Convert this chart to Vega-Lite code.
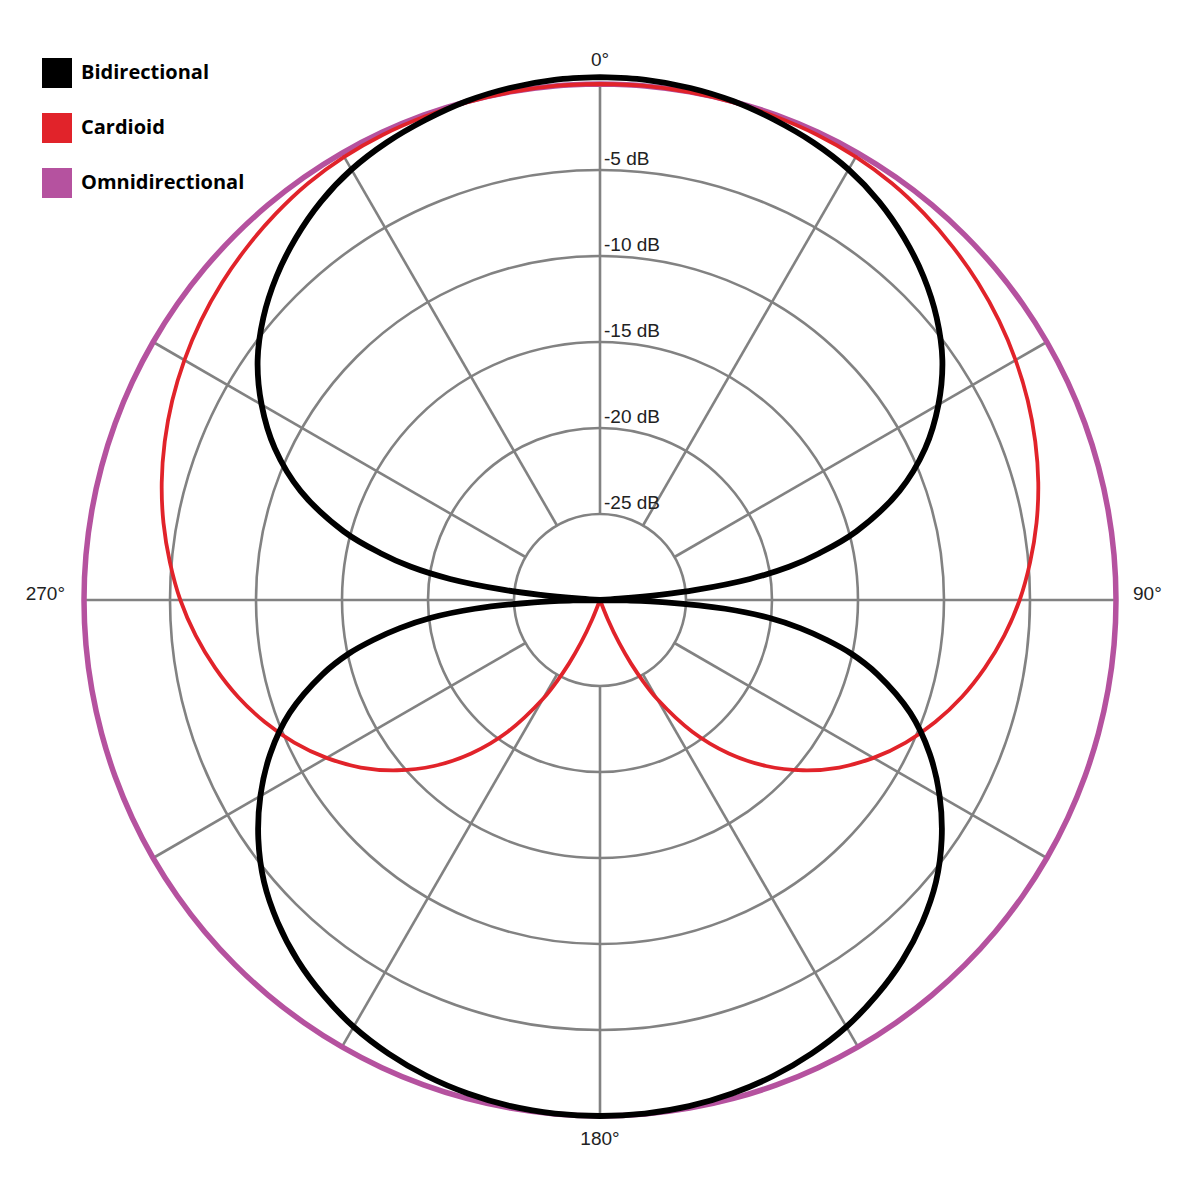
{
  "$schema": "https://vega.github.io/schema/vega-lite/v6.json",
  "width": 1032,
  "height": 1032,
  "autosize": {"type": "none"},
  "padding": {"left": 84, "top": 84, "right": 84, "bottom": 84},
  "background": "white",
  "config": {"view": {"stroke": null}},
  "datasets": {
    "rings": [{"dB": -25}, {"dB": -20}, {"dB": -15}, {"dB": -10}, {"dB": -5}, {"dB": 0}],
    "spokes": [{"angle": 0}, {"angle": 30}, {"angle": 60}, {"angle": 90}, {"angle": 120}, {"angle": 150}, {"angle": 180}, {"angle": 210}, {"angle": 240}, {"angle": 270}, {"angle": 300}, {"angle": 330}],
    "ringLabels": [{"label": "-5 dB", "dB": -5}, {"label": "-10 dB", "dB": -10}, {"label": "-15 dB", "dB": -15}, {"label": "-20 dB", "dB": -20}, {"label": "-25 dB", "dB": -25}],
    "angleLabels": [{"label": "0°", "angle": 0}, {"label": "90°", "angle": 90}, {"label": "180°", "angle": 180}, {"label": "270°", "angle": 270}],
    "curves": [
      {"pattern": "Omnidirectional", "angle": 0, "dB": 0}, {"pattern": "Omnidirectional", "angle": 5, "dB": 0}, {"pattern": "Omnidirectional", "angle": 10, "dB": 0}, {"pattern": "Omnidirectional", "angle": 15, "dB": 0}, {"pattern": "Omnidirectional", "angle": 20, "dB": 0}, {"pattern": "Omnidirectional", "angle": 25, "dB": 0}, {"pattern": "Omnidirectional", "angle": 30, "dB": 0}, {"pattern": "Omnidirectional", "angle": 35, "dB": 0}, {"pattern": "Omnidirectional", "angle": 40, "dB": 0}, {"pattern": "Omnidirectional", "angle": 45, "dB": 0}, {"pattern": "Omnidirectional", "angle": 50, "dB": 0}, {"pattern": "Omnidirectional", "angle": 55, "dB": 0}, {"pattern": "Omnidirectional", "angle": 60, "dB": 0}, {"pattern": "Omnidirectional", "angle": 65, "dB": 0}, {"pattern": "Omnidirectional", "angle": 70, "dB": 0}, {"pattern": "Omnidirectional", "angle": 75, "dB": 0}, {"pattern": "Omnidirectional", "angle": 80, "dB": 0}, {"pattern": "Omnidirectional", "angle": 85, "dB": 0}, {"pattern": "Omnidirectional", "angle": 90, "dB": 0}, {"pattern": "Omnidirectional", "angle": 95, "dB": 0}, {"pattern": "Omnidirectional", "angle": 100, "dB": 0}, {"pattern": "Omnidirectional", "angle": 105, "dB": 0}, {"pattern": "Omnidirectional", "angle": 110, "dB": 0}, {"pattern": "Omnidirectional", "angle": 115, "dB": 0}, {"pattern": "Omnidirectional", "angle": 120, "dB": 0}, {"pattern": "Omnidirectional", "angle": 125, "dB": 0}, {"pattern": "Omnidirectional", "angle": 130, "dB": 0}, {"pattern": "Omnidirectional", "angle": 135, "dB": 0}, {"pattern": "Omnidirectional", "angle": 140, "dB": 0}, {"pattern": "Omnidirectional", "angle": 145, "dB": 0}, {"pattern": "Omnidirectional", "angle": 150, "dB": 0}, {"pattern": "Omnidirectional", "angle": 155, "dB": 0}, {"pattern": "Omnidirectional", "angle": 160, "dB": 0}, {"pattern": "Omnidirectional", "angle": 165, "dB": 0}, {"pattern": "Omnidirectional", "angle": 170, "dB": 0}, {"pattern": "Omnidirectional", "angle": 175, "dB": 0}, {"pattern": "Omnidirectional", "angle": 180, "dB": 0}, {"pattern": "Omnidirectional", "angle": 185, "dB": 0}, {"pattern": "Omnidirectional", "angle": 190, "dB": 0}, {"pattern": "Omnidirectional", "angle": 195, "dB": 0}, {"pattern": "Omnidirectional", "angle": 200, "dB": 0}, {"pattern": "Omnidirectional", "angle": 205, "dB": 0}, {"pattern": "Omnidirectional", "angle": 210, "dB": 0}, {"pattern": "Omnidirectional", "angle": 215, "dB": 0}, {"pattern": "Omnidirectional", "angle": 220, "dB": 0}, {"pattern": "Omnidirectional", "angle": 225, "dB": 0}, {"pattern": "Omnidirectional", "angle": 230, "dB": 0}, {"pattern": "Omnidirectional", "angle": 235, "dB": 0}, {"pattern": "Omnidirectional", "angle": 240, "dB": 0}, {"pattern": "Omnidirectional", "angle": 245, "dB": 0}, {"pattern": "Omnidirectional", "angle": 250, "dB": 0}, {"pattern": "Omnidirectional", "angle": 255, "dB": 0}, {"pattern": "Omnidirectional", "angle": 260, "dB": 0}, {"pattern": "Omnidirectional", "angle": 265, "dB": 0}, {"pattern": "Omnidirectional", "angle": 270, "dB": 0}, {"pattern": "Omnidirectional", "angle": 275, "dB": 0}, {"pattern": "Omnidirectional", "angle": 280, "dB": 0}, {"pattern": "Omnidirectional", "angle": 285, "dB": 0}, {"pattern": "Omnidirectional", "angle": 290, "dB": 0}, {"pattern": "Omnidirectional", "angle": 295, "dB": 0}, {"pattern": "Omnidirectional", "angle": 300, "dB": 0}, {"pattern": "Omnidirectional", "angle": 305, "dB": 0}, {"pattern": "Omnidirectional", "angle": 310, "dB": 0}, {"pattern": "Omnidirectional", "angle": 315, "dB": 0}, {"pattern": "Omnidirectional", "angle": 320, "dB": 0}, {"pattern": "Omnidirectional", "angle": 325, "dB": 0}, {"pattern": "Omnidirectional", "angle": 330, "dB": 0}, {"pattern": "Omnidirectional", "angle": 335, "dB": 0}, {"pattern": "Omnidirectional", "angle": 340, "dB": 0}, {"pattern": "Omnidirectional", "angle": 345, "dB": 0}, {"pattern": "Omnidirectional", "angle": 350, "dB": 0}, {"pattern": "Omnidirectional", "angle": 355, "dB": 0}, {"pattern": "Omnidirectional", "angle": 360, "dB": 0},
      {"pattern": "Cardioid", "angle": 0, "dB": 0}, {"pattern": "Cardioid", "angle": 5, "dB": 0}, {"pattern": "Cardioid", "angle": 10, "dB": -0.02}, {"pattern": "Cardioid", "angle": 15, "dB": -0.05}, {"pattern": "Cardioid", "angle": 20, "dB": -0.1}, {"pattern": "Cardioid", "angle": 25, "dB": -0.15}, {"pattern": "Cardioid", "angle": 30, "dB": -0.25}, {"pattern": "Cardioid", "angle": 35, "dB": -0.42}, {"pattern": "Cardioid", "angle": 40, "dB": -0.68}, {"pattern": "Cardioid", "angle": 45, "dB": -0.98}, {"pattern": "Cardioid", "angle": 50, "dB": -1.31}, {"pattern": "Cardioid", "angle": 55, "dB": -1.68}, {"pattern": "Cardioid", "angle": 60, "dB": -2.1}, {"pattern": "Cardioid", "angle": 65, "dB": -2.56}, {"pattern": "Cardioid", "angle": 70, "dB": -3.07}, {"pattern": "Cardioid", "angle": 75, "dB": -3.62}, {"pattern": "Cardioid", "angle": 80, "dB": -4.23}, {"pattern": "Cardioid", "angle": 85, "dB": -4.9}, {"pattern": "Cardioid", "angle": 90, "dB": -5.6}, {"pattern": "Cardioid", "angle": 95, "dB": -6.4}, {"pattern": "Cardioid", "angle": 100, "dB": -7.28}, {"pattern": "Cardioid", "angle": 105, "dB": -8.22}, {"pattern": "Cardioid", "angle": 110, "dB": -9.26}, {"pattern": "Cardioid", "angle": 115, "dB": -10.39}, {"pattern": "Cardioid", "angle": 120, "dB": -11.64}, {"pattern": "Cardioid", "angle": 125, "dB": -13.02}, {"pattern": "Cardioid", "angle": 130, "dB": -14.6}, {"pattern": "Cardioid", "angle": 135, "dB": -16.35}, {"pattern": "Cardioid", "angle": 140, "dB": -18.35}, {"pattern": "Cardioid", "angle": 145, "dB": -20.65}, {"pattern": "Cardioid", "angle": 150, "dB": -23.35}, {"pattern": "Cardioid", "angle": 152, "dB": -24.6}, {"pattern": "Cardioid", "angle": 154, "dB": -25.9}, {"pattern": "Cardioid", "angle": 156, "dB": -27.28}, {"pattern": "Cardioid", "angle": 158, "dB": -28.78}, {"pattern": "Cardioid", "angle": 160, "dB": -30}, {"pattern": "Cardioid", "angle": 180, "dB": -30}, {"pattern": "Cardioid", "angle": 200, "dB": -30}, {"pattern": "Cardioid", "angle": 202, "dB": -28.78}, {"pattern": "Cardioid", "angle": 204, "dB": -27.28}, {"pattern": "Cardioid", "angle": 206, "dB": -25.9}, {"pattern": "Cardioid", "angle": 208, "dB": -24.6}, {"pattern": "Cardioid", "angle": 210, "dB": -23.35}, {"pattern": "Cardioid", "angle": 215, "dB": -20.65}, {"pattern": "Cardioid", "angle": 220, "dB": -18.35}, {"pattern": "Cardioid", "angle": 225, "dB": -16.35}, {"pattern": "Cardioid", "angle": 230, "dB": -14.6}, {"pattern": "Cardioid", "angle": 235, "dB": -13.02}, {"pattern": "Cardioid", "angle": 240, "dB": -11.64}, {"pattern": "Cardioid", "angle": 245, "dB": -10.39}, {"pattern": "Cardioid", "angle": 250, "dB": -9.26}, {"pattern": "Cardioid", "angle": 255, "dB": -8.22}, {"pattern": "Cardioid", "angle": 260, "dB": -7.28}, {"pattern": "Cardioid", "angle": 265, "dB": -6.4}, {"pattern": "Cardioid", "angle": 270, "dB": -5.6}, {"pattern": "Cardioid", "angle": 275, "dB": -4.9}, {"pattern": "Cardioid", "angle": 280, "dB": -4.23}, {"pattern": "Cardioid", "angle": 285, "dB": -3.62}, {"pattern": "Cardioid", "angle": 290, "dB": -3.07}, {"pattern": "Cardioid", "angle": 295, "dB": -2.56}, {"pattern": "Cardioid", "angle": 300, "dB": -2.1}, {"pattern": "Cardioid", "angle": 305, "dB": -1.68}, {"pattern": "Cardioid", "angle": 310, "dB": -1.31}, {"pattern": "Cardioid", "angle": 315, "dB": -0.98}, {"pattern": "Cardioid", "angle": 320, "dB": -0.68}, {"pattern": "Cardioid", "angle": 325, "dB": -0.42}, {"pattern": "Cardioid", "angle": 330, "dB": -0.25}, {"pattern": "Cardioid", "angle": 335, "dB": -0.15}, {"pattern": "Cardioid", "angle": 340, "dB": -0.1}, {"pattern": "Cardioid", "angle": 345, "dB": -0.05}, {"pattern": "Cardioid", "angle": 350, "dB": -0.02}, {"pattern": "Cardioid", "angle": 355, "dB": 0}, {"pattern": "Cardioid", "angle": 360, "dB": 0},
      {"pattern": "Bidirectional", "angle": 0, "dB": 0.4}, {"pattern": "Bidirectional", "angle": 5, "dB": 0.36}, {"pattern": "Bidirectional", "angle": 10, "dB": 0.23}, {"pattern": "Bidirectional", "angle": 15, "dB": 0.02}, {"pattern": "Bidirectional", "angle": 20, "dB": -0.3}, {"pattern": "Bidirectional", "angle": 25, "dB": -0.65}, {"pattern": "Bidirectional", "angle": 30, "dB": -1.1}, {"pattern": "Bidirectional", "angle": 35, "dB": -1.72}, {"pattern": "Bidirectional", "angle": 40, "dB": -2.5}, {"pattern": "Bidirectional", "angle": 45, "dB": -3.4}, {"pattern": "Bidirectional", "angle": 50, "dB": -4.45}, {"pattern": "Bidirectional", "angle": 55, "dB": -5.7}, {"pattern": "Bidirectional", "angle": 60, "dB": -7.28}, {"pattern": "Bidirectional", "angle": 65, "dB": -9.14}, {"pattern": "Bidirectional", "angle": 70, "dB": -11.48}, {"pattern": "Bidirectional", "angle": 75, "dB": -14.57}, {"pattern": "Bidirectional", "angle": 78, "dB": -16.99}, {"pattern": "Bidirectional", "angle": 80, "dB": -18.8}, {"pattern": "Bidirectional", "angle": 82, "dB": -21.2}, {"pattern": "Bidirectional", "angle": 84, "dB": -24.4}, {"pattern": "Bidirectional", "angle": 85, "dB": -26.4}, {"pattern": "Bidirectional", "angle": 86, "dB": -28.9}, {"pattern": "Bidirectional", "angle": 87, "dB": -30}, {"pattern": "Bidirectional", "angle": 90, "dB": -30}, {"pattern": "Bidirectional", "angle": 91, "dB": -28.43}, {"pattern": "Bidirectional", "angle": 92, "dB": -26.17}, {"pattern": "Bidirectional", "angle": 94, "dB": -22.7}, {"pattern": "Bidirectional", "angle": 96, "dB": -20.13}, {"pattern": "Bidirectional", "angle": 98, "dB": -18.25}, {"pattern": "Bidirectional", "angle": 100, "dB": -16.61}, {"pattern": "Bidirectional", "angle": 102, "dB": -15.1}, {"pattern": "Bidirectional", "angle": 105, "dB": -13.3}, {"pattern": "Bidirectional", "angle": 110, "dB": -10.8}, {"pattern": "Bidirectional", "angle": 115, "dB": -8.85}, {"pattern": "Bidirectional", "angle": 120, "dB": -7.2}, {"pattern": "Bidirectional", "angle": 125, "dB": -5.75}, {"pattern": "Bidirectional", "angle": 130, "dB": -4.5}, {"pattern": "Bidirectional", "angle": 135, "dB": -3.5}, {"pattern": "Bidirectional", "angle": 140, "dB": -2.65}, {"pattern": "Bidirectional", "angle": 145, "dB": -1.95}, {"pattern": "Bidirectional", "angle": 150, "dB": -1.35}, {"pattern": "Bidirectional", "angle": 155, "dB": -0.9}, {"pattern": "Bidirectional", "angle": 160, "dB": -0.55}, {"pattern": "Bidirectional", "angle": 165, "dB": -0.3}, {"pattern": "Bidirectional", "angle": 170, "dB": -0.12}, {"pattern": "Bidirectional", "angle": 175, "dB": -0.03}, {"pattern": "Bidirectional", "angle": 180, "dB": 0}, {"pattern": "Bidirectional", "angle": 185, "dB": -0.03}, {"pattern": "Bidirectional", "angle": 190, "dB": -0.12}, {"pattern": "Bidirectional", "angle": 195, "dB": -0.3}, {"pattern": "Bidirectional", "angle": 200, "dB": -0.55}, {"pattern": "Bidirectional", "angle": 205, "dB": -0.9}, {"pattern": "Bidirectional", "angle": 210, "dB": -1.35}, {"pattern": "Bidirectional", "angle": 215, "dB": -1.95}, {"pattern": "Bidirectional", "angle": 220, "dB": -2.65}, {"pattern": "Bidirectional", "angle": 225, "dB": -3.5}, {"pattern": "Bidirectional", "angle": 230, "dB": -4.5}, {"pattern": "Bidirectional", "angle": 235, "dB": -5.75}, {"pattern": "Bidirectional", "angle": 240, "dB": -7.2}, {"pattern": "Bidirectional", "angle": 245, "dB": -8.85}, {"pattern": "Bidirectional", "angle": 250, "dB": -10.8}, {"pattern": "Bidirectional", "angle": 255, "dB": -13.3}, {"pattern": "Bidirectional", "angle": 258, "dB": -15.1}, {"pattern": "Bidirectional", "angle": 260, "dB": -16.61}, {"pattern": "Bidirectional", "angle": 262, "dB": -18.25}, {"pattern": "Bidirectional", "angle": 264, "dB": -20.13}, {"pattern": "Bidirectional", "angle": 266, "dB": -22.7}, {"pattern": "Bidirectional", "angle": 268, "dB": -26.17}, {"pattern": "Bidirectional", "angle": 269, "dB": -28.43}, {"pattern": "Bidirectional", "angle": 270, "dB": -30}, {"pattern": "Bidirectional", "angle": 273, "dB": -30}, {"pattern": "Bidirectional", "angle": 274, "dB": -28.9}, {"pattern": "Bidirectional", "angle": 275, "dB": -26.4}, {"pattern": "Bidirectional", "angle": 276, "dB": -24.4}, {"pattern": "Bidirectional", "angle": 278, "dB": -21.2}, {"pattern": "Bidirectional", "angle": 280, "dB": -18.8}, {"pattern": "Bidirectional", "angle": 282, "dB": -16.99}, {"pattern": "Bidirectional", "angle": 285, "dB": -14.57}, {"pattern": "Bidirectional", "angle": 290, "dB": -11.48}, {"pattern": "Bidirectional", "angle": 295, "dB": -9.14}, {"pattern": "Bidirectional", "angle": 300, "dB": -7.28}, {"pattern": "Bidirectional", "angle": 305, "dB": -5.7}, {"pattern": "Bidirectional", "angle": 310, "dB": -4.45}, {"pattern": "Bidirectional", "angle": 315, "dB": -3.4}, {"pattern": "Bidirectional", "angle": 320, "dB": -2.5}, {"pattern": "Bidirectional", "angle": 325, "dB": -1.72}, {"pattern": "Bidirectional", "angle": 330, "dB": -1.1}, {"pattern": "Bidirectional", "angle": 335, "dB": -0.65}, {"pattern": "Bidirectional", "angle": 340, "dB": -0.3}, {"pattern": "Bidirectional", "angle": 345, "dB": 0.02}, {"pattern": "Bidirectional", "angle": 350, "dB": 0.23}, {"pattern": "Bidirectional", "angle": 355, "dB": 0.36}, {"pattern": "Bidirectional", "angle": 360, "dB": 0.4}
    ]
  },
  "layer": [
    {
      "data": {"name": "rings"},
      "transform": [{"calculate": "datum.dB + 30", "as": "r"}],
      "mark": {"type": "arc", "filled": false, "stroke": "#828282", "strokeWidth": 2.6, "theta": 0, "theta2": 6.2832},
      "encoding": {
        "radius": {"field": "r", "type": "quantitative", "stack": null, "scale": {"type": "linear", "domain": [0, 30], "range": [0, 516], "zero": true}}
      }
    },
    {
      "data": {"name": "spokes"},
      "transform": [
        {"calculate": "5 * sin(datum.angle * PI / 180)", "as": "x1"},
        {"calculate": "5 * cos(datum.angle * PI / 180)", "as": "y1"},
        {"calculate": "30 * sin(datum.angle * PI / 180)", "as": "x2"},
        {"calculate": "30 * cos(datum.angle * PI / 180)", "as": "y2"}
      ],
      "mark": {"type": "rule", "stroke": "#828282", "strokeWidth": 2.6},
      "encoding": {
        "x": {"field": "x1", "type": "quantitative", "scale": {"domain": [-30, 30], "nice": false, "zero": false}, "axis": null},
        "y": {"field": "y1", "type": "quantitative", "scale": {"domain": [-30, 30], "nice": false, "zero": false}, "axis": null},
        "x2": {"field": "x2"},
        "y2": {"field": "y2"}
      }
    },
    {
      "data": {"name": "ringLabels"},
      "transform": [{"calculate": "0", "as": "x"}, {"calculate": "datum.dB + 30", "as": "y"}],
      "mark": {"type": "text", "align": "left", "baseline": "alphabetic", "dx": 4, "dy": -5, "font": "Liberation Sans", "fontSize": 19, "fill": "#222222"},
      "encoding": {
        "x": {"field": "x", "type": "quantitative", "scale": {"domain": [-30, 30], "nice": false, "zero": false}, "axis": null},
        "y": {"field": "y", "type": "quantitative", "scale": {"domain": [-30, 30], "nice": false, "zero": false}, "axis": null},
        "text": {"field": "label"}
      }
    },
    {
      "data": {"name": "angleLabels"},
      "transform": [{"filter": "datum.angle === 0"}, {"calculate": "30 * sin(datum.angle * PI / 180)", "as": "x"}, {"calculate": "30 * cos(datum.angle * PI / 180)", "as": "y"}],
      "mark": {"type": "text", "align": "center", "baseline": "alphabetic", "dy": -18, "font": "Liberation Sans", "fontSize": 19, "fill": "#222222"},
      "encoding": {
        "x": {"field": "x", "type": "quantitative", "scale": {"domain": [-30, 30], "nice": false, "zero": false}, "axis": null},
        "y": {"field": "y", "type": "quantitative", "scale": {"domain": [-30, 30], "nice": false, "zero": false}, "axis": null},
        "text": {"field": "label"}
      }
    },
    {
      "data": {"name": "angleLabels"},
      "transform": [{"filter": "datum.angle === 180"}, {"calculate": "30 * sin(datum.angle * PI / 180)", "as": "x"}, {"calculate": "30 * cos(datum.angle * PI / 180)", "as": "y"}],
      "mark": {"type": "text", "align": "center", "baseline": "alphabetic", "dy": 29, "font": "Liberation Sans", "fontSize": 19, "fill": "#222222"},
      "encoding": {
        "x": {"field": "x", "type": "quantitative", "scale": {"domain": [-30, 30], "nice": false, "zero": false}, "axis": null},
        "y": {"field": "y", "type": "quantitative", "scale": {"domain": [-30, 30], "nice": false, "zero": false}, "axis": null},
        "text": {"field": "label"}
      }
    },
    {
      "data": {"name": "angleLabels"},
      "transform": [{"filter": "datum.angle === 90"}, {"calculate": "30 * sin(datum.angle * PI / 180)", "as": "x"}, {"calculate": "30 * cos(datum.angle * PI / 180)", "as": "y"}],
      "mark": {"type": "text", "align": "left", "baseline": "alphabetic", "dx": 17, "font": "Liberation Sans", "fontSize": 19, "fill": "#222222"},
      "encoding": {
        "x": {"field": "x", "type": "quantitative", "scale": {"domain": [-30, 30], "nice": false, "zero": false}, "axis": null},
        "y": {"field": "y", "type": "quantitative", "scale": {"domain": [-30, 30], "nice": false, "zero": false}, "axis": null},
        "text": {"field": "label"}
      }
    },
    {
      "data": {"name": "angleLabels"},
      "transform": [{"filter": "datum.angle === 270"}, {"calculate": "30 * sin(datum.angle * PI / 180)", "as": "x"}, {"calculate": "30 * cos(datum.angle * PI / 180)", "as": "y"}],
      "mark": {"type": "text", "align": "right", "baseline": "alphabetic", "dx": -19, "font": "Liberation Sans", "fontSize": 19, "fill": "#222222"},
      "encoding": {
        "x": {"field": "x", "type": "quantitative", "scale": {"domain": [-30, 30], "nice": false, "zero": false}, "axis": null},
        "y": {"field": "y", "type": "quantitative", "scale": {"domain": [-30, 30], "nice": false, "zero": false}, "axis": null},
        "text": {"field": "label"}
      }
    },
    {
      "data": {"name": "curves"},
      "transform": [
        {"calculate": "max(0, datum.dB + 30)", "as": "r"},
        {"calculate": "datum.r * sin(datum.angle * PI / 180)", "as": "x"},
        {"calculate": "datum.r * cos(datum.angle * PI / 180)", "as": "y"}
      ],
      "encoding": {
        "x": {"field": "x", "type": "quantitative", "scale": {"domain": [-30, 30], "nice": false, "zero": false}, "axis": null},
        "y": {"field": "y", "type": "quantitative", "scale": {"domain": [-30, 30], "nice": false, "zero": false}, "axis": null},
        "order": {"field": "angle", "type": "quantitative"},
        "color": {
          "field": "pattern",
          "type": "nominal",
          "scale": {"domain": ["Bidirectional", "Cardioid", "Omnidirectional"], "range": ["#000000", "#e1232a", "#b5529f"]},
          "legend": {
            "orient": "none",
            "legendX": -42,
            "legendY": -26,
            "title": null,
            "padding": 0,
            "symbolType": "square",
            "symbolSize": 225,
            "symbolStrokeWidth": 15,
            "symbolOpacity": 1,
            "labelFont": "Open Sans",
            "labelFontSize": 20,
            "labelFontWeight": "bold",
            "labelColor": "#000000",
            "labelOffset": 9,
            "labelLimit": 0,
            "rowPadding": -21
          }
        }
      },
      "layer": [
        {"transform": [{"filter": "datum.pattern === 'Omnidirectional'"}], "mark": {"type": "line", "interpolate": "catmull-rom", "strokeWidth": 5.5, "strokeJoin": "round", "strokeCap": "round"}},
        {"transform": [{"filter": "datum.pattern === 'Cardioid'"}], "mark": {"type": "line", "interpolate": "catmull-rom", "strokeWidth": 3.8, "strokeJoin": "round", "strokeCap": "round"}},
        {"transform": [{"filter": "datum.pattern === 'Bidirectional'"}], "mark": {"type": "line", "interpolate": "catmull-rom", "strokeWidth": 5.8, "strokeJoin": "round", "strokeCap": "round"}}
      ]
    }
  ]
}
